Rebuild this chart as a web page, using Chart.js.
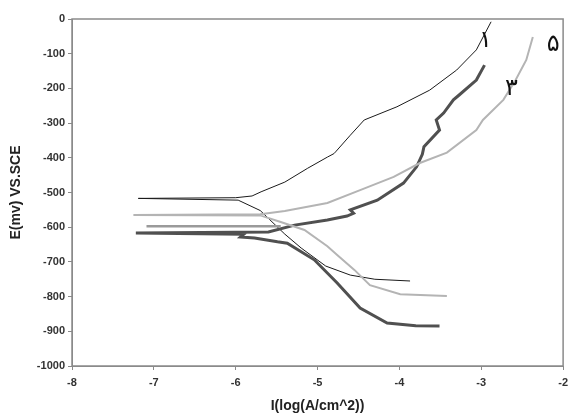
<!DOCTYPE html>
<html lang="en">
<head>
  <meta charset="UTF-8" />
  <title>Tafel</title>
  <style>
    * { margin: 0; padding: 0; }
    body { background: #fff; }
    .chartBox { width: 574px; height: 419px; }
  </style>
</head>
<body>
  <div class="chartBox"><canvas id="myChart"></canvas></div>
  <script src="https://cdn.jsdelivr.net/npm/chart.js@4"></script>
  <script>
    // curve 1 (thin black)
    const logI1 = [-3.87, -4.3, -4.6, -4.9, -5.2, -5.4, -5.7, -5.97, -7.19, -6.0, -5.8, -5.69, -5.4, -5.12, -4.88, -4.8, -4.78, -4.6, -4.43, -4.03, -3.63, -3.3, -3.06, -2.88];
    const E1 = [-755, -750, -738, -712, -660, -620, -552, -522, -517, -515, -510, -498, -470, -430, -398, -388, -383, -335, -291, -253, -205, -147, -89, -8];

    // curve 3 (thick dark gray)
    const logI3 = [-3.51, -3.8, -4.15, -4.48, -4.76, -5.04, -5.2, -5.37, -5.49, -5.77, -5.94, -5.9, -7.22, -5.6, -5.28, -4.88, -4.64, -4.56, -4.6, -4.27, -3.95, -3.79, -3.72, -3.7, -3.51, -3.55, -3.46, -3.34, -3.27, -3.06, -2.96];
    const E3 = [-885, -884, -876, -833, -761, -694, -671, -646, -642, -631, -628, -620, -617, -614, -594, -579, -568, -560, -550, -522, -473, -426, -390, -368, -320, -291, -271, -233, -219, -176, -133];

    // curve 5 (light gray)
    const logI5 = [-3.42, -3.99, -4.36, -4.55, -4.76, -4.88, -5.16, -5.45, -5.7, -7.25, -5.7, -5.4, -4.88, -4.48, -4.07, -3.75, -3.42, -3.06, -2.98, -2.73, -2.58, -2.45, -2.37];
    const E5 = [-798, -793, -767, -723, -680, -655, -608, -585, -566, -565, -563, -553, -530, -493, -455, -415, -385, -320, -291, -233, -176, -118, -52];

    // mid gray band near -597
    const logIb = [-7.09, -5.45];
    const Eb = [-597, -597];

    const curveLabels = ["\u06F1", "\u06F3", "\u06F5"];
    const labelX = [-2.95, -2.63, -2.12];
    const labelY = [-62, -200, -75];

    const pts = (xs, ys) => xs.map((x, i) => ({ x: x, y: ys[i] }));

    const frame = {
      id: "frame",
      afterDraw(chart) {
        const a = chart.chartArea;
        const c = chart.ctx;
        c.save();
        c.strokeStyle = "#8a8a8a";
        c.lineWidth = 1.5;
        c.strokeRect(a.left, a.top, a.right - a.left, a.bottom - a.top);
        const xs = chart.scales.x, ys = chart.scales.y;
        c.fillStyle = "#111";
        c.font = "24px 'DejaVu Sans', 'Noto Sans', sans-serif";
        c.textAlign = "center";
        c.textBaseline = "middle";
        curveLabels.forEach((t, i) => {
          c.fillText(t, xs.getPixelForValue(labelX[i]), ys.getPixelForValue(labelY[i]));
        });
        c.restore();
      }
    };

    const line = (data, color, w) => ({
      data: data,
      showLine: true,
      borderColor: color,
      backgroundColor: color,
      borderWidth: w,
      pointRadius: 0,
      tension: 0
    });

    const tickFont = { family: "Arial, 'Liberation Sans', sans-serif", size: 11, weight: "bold" };
    const titleFont = { family: "Arial, 'Liberation Sans', sans-serif", size: 14, weight: "bold" };

    const config = {
      type: "scatter",
      data: {
        datasets: [
          line(pts(logIb, Eb), "#9a9a9a", 2.5),
          line(pts(logI5, E5), "#b4b4b4", 2),
          line(pts(logI3, E3), "#505050", 3),
          line(pts(logI1, E1), "#1a1a1a", 1)
        ]
      },
      options: {
        responsive: false,
        animation: false,
        layout: { padding: { top: 19, right: 7, left: 4, bottom: 0 } },
        plugins: { legend: { display: false }, tooltip: { enabled: false } },
        scales: {
          x: {
            min: -8, max: -2,
            ticks: { stepSize: 1, color: "#333", font: tickFont, padding: 6 },
            grid: { drawOnChartArea: false, color: "#8a8a8a", tickLength: 4 },
            border: { color: "#8a8a8a" },
            title: { display: true, text: "I(log(A/cm^2))", color: "#222", font: titleFont, padding: { top: 2 } },
            afterFit(s) { s.height = 53; }
          },
          y: {
            min: -1000, max: 0,
            ticks: { stepSize: 100, color: "#333", font: tickFont, padding: 3, callback: (v) => String(v) },
            grid: { drawOnChartArea: false, color: "#8a8a8a", tickLength: 4 },
            border: { color: "#8a8a8a" },
            title: { display: true, text: "E(mv) VS.SCE", color: "#222", font: titleFont, padding: { bottom: 2 } },
            afterFit(s) { s.width = 68; }
          }
        }
      },
      plugins: [frame]
    };

    const cv = document.getElementById("myChart");
    cv.width = 574;
    cv.height = 419;
    const myChart = new Chart(cv.getContext("2d"), config);
  </script>
</body>
</html>
